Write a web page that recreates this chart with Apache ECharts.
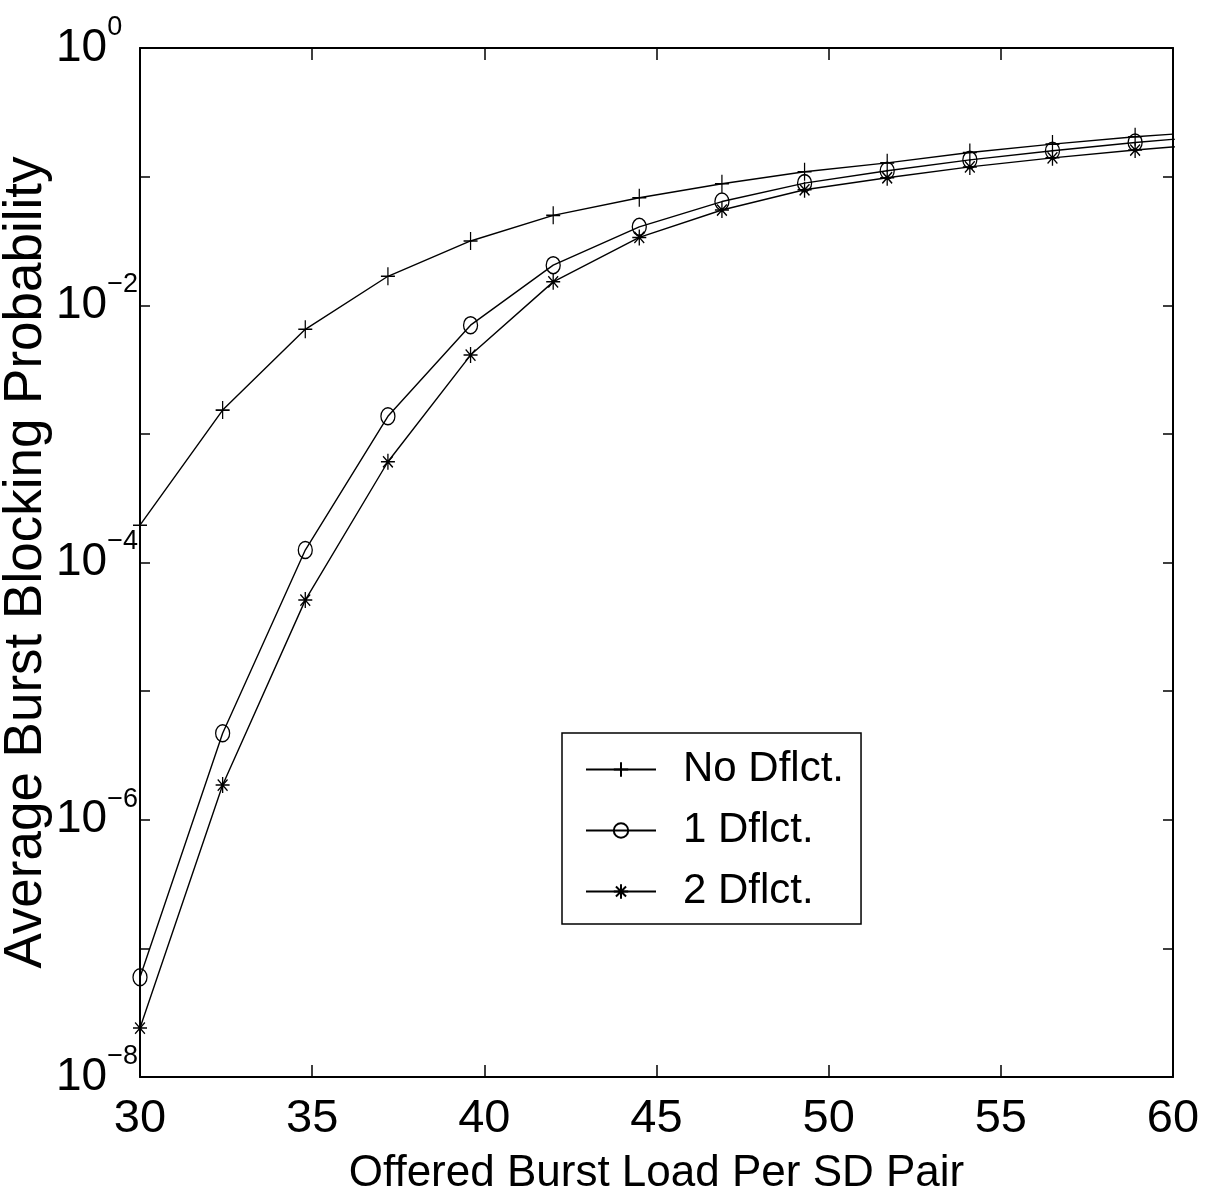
<!DOCTYPE html>
<html>
<head>
<meta charset="utf-8">
<script src="https://cdn.jsdelivr.net/npm/echarts@6/dist/echarts.min.js"></script>
<style>
  html, body { margin: 0; padding: 0; background: #fff; }
  #chart { width: 1215px; height: 1198px; }
</style>
</head>
<body>
<div id="chart"></div>
<script>
// offered load per SD pair (x) where markers sit
var loads = [30, 32.4, 34.8, 37.2, 39.6, 42.0, 44.5, 46.9, 49.3, 51.7, 54.1, 56.5, 58.9]
// blocking probability
var noDflct = [1.95e-4, 1.53e-3, 6.5e-3, 1.68e-2, 3.16e-2, 5.0e-2, 6.85e-2, 8.8e-2, 0.109, 0.128, 0.154, 0.179, 0.204]
var oneDflct = [5.97e-8, 4.7e-6, 1.25e-4, 1.37e-3, 7.0e-3, 2.05e-2, 4.07e-2, 6.4e-2, 8.9e-2, 0.111, 0.135, 0.159, 0.184]
var twoDflct = [2.4e-8, 1.86e-6, 5.1e-5, 6.07e-4, 4.1e-3, 1.52e-2, 3.37e-2, 5.5e-2, 7.9e-2, 9.8e-2, 0.119, 0.140, 0.161]
// curve ends (no marker): No Dflct stops at the frame, the others run past it
var noDflctEnd = [60, 0.214]
var oneDflctEnd = [61.3, 0.209]
var twoDflctEnd = [61.3, 0.182]
var names = ['No Dflct.', '1 Dflct.', '2 Dflct.']

var FONT = "'Liberation Sans', Arial, sans-serif"
var PLUS = 'path://M5,0L5,10M0,5L10,5'
var STAR = 'path://M5,0L5,10M0,5L10,5M1.5,1.5L8.5,8.5M8.5,1.5L1.5,8.5'

function pts(ys, end) {
  var d = loads.map(function (x, i) { return [x, ys[i]] })
  d.push({ value: end, symbol: 'none' })
  return d
}

function mkSeries(name, ys, end, symbol, size) {
  return {
    name: name,
    type: 'line',
    data: pts(ys, end),
    symbol: symbol,
    symbolSize: size,
    showAllSymbol: true,
    clip: false,
    animation: false,
    lineStyle: { color: '#000', width: 1.4 },
    itemStyle: { color: 'none', borderColor: '#000', borderWidth: 1.4 }
  }
}

var chart = echarts.init(document.getElementById('chart'))
chart.setOption({
  backgroundColor: '#fff',
  grid: { left: 140, right: 42, top: 48, bottom: 121, outerBoundsMode: 'none', containLabel: false },
  legend: {
    orient: 'vertical',
    left: 562,
    top: 733,
    data: names,
    itemWidth: 70,
    itemHeight: 18,
    itemGap: 14,
    padding: [13, 17, 9, 23],
    borderColor: '#000',
    borderWidth: 1.5,
    backgroundColor: '#fff',
    textStyle: { fontFamily: FONT, fontSize: 42, lineHeight: 47, color: '#000', padding: [0, 0, 0, 22] }
  },
  xAxis: [{
    type: 'value',
    min: 30,
    max: 60,
    interval: 5,
    name: 'Offered Burst Load Per SD Pair',
    nameLocation: 'middle',
    nameGap: 73,
    nameMoveOverlap: false,
    nameTextStyle: { fontFamily: FONT, fontSize: 44, lineHeight: 48, color: '#000' },
    axisLine: { onZero: false, lineStyle: { color: '#000', width: 2 } },
    axisTick: { inside: true, length: 12, lineStyle: { color: '#000', width: 1.5 } },
    axisLabel: { margin: 16, fontFamily: FONT, fontSize: 47, lineHeight: 52, color: '#000' },
    splitLine: { show: false }
  }, {
    type: 'value',
    position: 'top',
    min: 30,
    max: 60,
    interval: 5,
    axisLine: { onZero: false, lineStyle: { color: '#000', width: 2 } },
    axisTick: { inside: true, length: 12, lineStyle: { color: '#000', width: 1.5 } },
    axisLabel: { show: false },
    splitLine: { show: false }
  }],
  yAxis: [{
    type: 'log',
    logBase: 10,
    min: 1e-8,
    max: 1,
    interval: 1,
    name: 'Average Burst Blocking Probability',
    nameLocation: 'middle',
    nameGap: 87,
    nameMoveOverlap: false,
    nameTextStyle: { fontFamily: FONT, fontSize: 53, color: '#000' },
    axisLine: { lineStyle: { color: '#000', width: 2 } },
    axisTick: { inside: true, length: 10, lineStyle: { color: '#000', width: 1.5 } },
    axisLabel: {
      margin: 84,
      align: 'left',
      formatter: function (v) {
        var e = Math.round(Math.log10(v))
        if (e % 2 !== 0) return ''
        return '{b|10}{s|' + (e === 0 ? '0' : '\u2212' + (-e)) + '}'
      },
      rich: {
        b: { fontFamily: FONT, fontSize: 46, lineHeight: 68, color: '#000', verticalAlign: 'middle' },
        s: { fontFamily: FONT, fontSize: 27, lineHeight: 27, color: '#000', verticalAlign: 'top' }
      }
    },
    splitLine: { show: false },
    minorTick: { show: false }
  }, {
    type: 'log',
    logBase: 10,
    position: 'right',
    min: 1e-8,
    max: 1,
    interval: 1,
    axisLine: { lineStyle: { color: '#000', width: 2 } },
    axisTick: { inside: true, length: 10, lineStyle: { color: '#000', width: 1.5 } },
    axisLabel: { show: false },
    splitLine: { show: false }
  }],
  series: [
    mkSeries(names[0], noDflct, noDflctEnd, PLUS, [14, 18]),
    mkSeries(names[1], oneDflct, oneDflctEnd, 'circle', [14, 17]),
    mkSeries(names[2], twoDflct, twoDflctEnd, STAR, [14, 16])
  ]
})
</script>
</body>
</html>
